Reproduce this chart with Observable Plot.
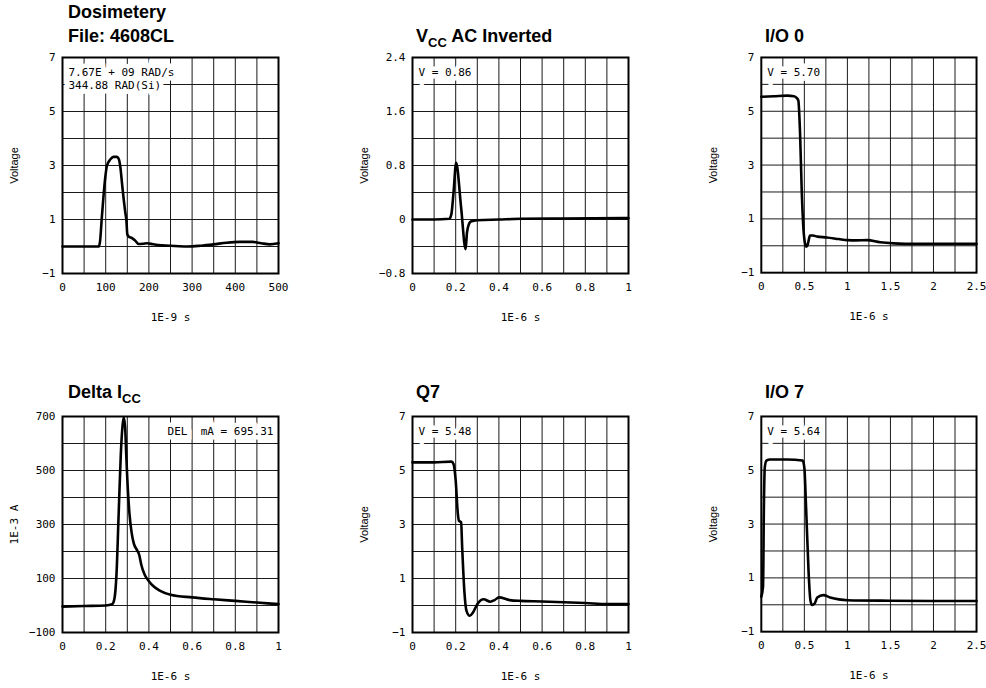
<!DOCTYPE html>
<html><head><meta charset="utf-8">
<script src="https://cdn.jsdelivr.net/npm/d3@7"></script>
<script src="https://cdn.jsdelivr.net/npm/@observablehq/plot@0.6"></script>
<style>
body{margin:0;background:#fff;}
#root{position:relative;width:986px;height:688px;overflow:hidden;background:#fff;}
.panel{position:absolute;}
.title{position:absolute;font-family:"Liberation Sans",Arial,Helvetica,sans-serif;font-weight:bold;font-size:18px;line-height:24px;color:#000;white-space:nowrap;}
.title .sub{font-size:13px;position:relative;top:5px;}
</style></head><body><div id="root"></div>
<script>
// ---------- Data ----------
// Panel 1: Dosimetery (time in 1E-9 s, Voltage)
const dosT = [0, 50, 84, 87, 91, 95, 99, 103, 111, 118, 126, 130, 134, 138, 142, 145, 148, 150, 153, 161, 169, 176, 186, 196, 210, 230, 260, 290, 320, 350, 380, 410, 440, 460, 480, 500];
const dosV = [0, 0, 0, 0.2, 1.07, 1.88, 2.56, 3.0, 3.23, 3.32, 3.32, 3.25, 2.93, 2.3, 1.7, 1.3, 0.95, 0.46, 0.37, 0.31, 0.21, 0.09, 0.1, 0.12, 0.08, 0.04, 0.02, 0.0, 0.03, 0.08, 0.14, 0.17, 0.17, 0.12, 0.08, 0.12];

// Panel 2: VCC AC Inverted (1E-6 s, Voltage)
const vccT = [0, 0.1, 0.17, 0.18, 0.19, 0.202, 0.225, 0.246, 0.252, 0.258, 0.27, 0.3, 0.4, 0.5, 0.7, 1.0];
const vccV = [0, 0, 0.01, 0.08, 0.4, 0.84, 0.18, -0.44, -0.2, -0.1, -0.03, -0.01, 0, 0.01, 0.015, 0.02];

// Panel 3: I/O 0 (1E-6 s, Voltage)
const io0T = [0, 0.15, 0.3, 0.38, 0.41, 0.43, 0.45, 0.47, 0.49, 0.51, 0.52, 0.535, 0.55, 0.565, 0.6, 0.65, 0.76, 0.9, 1.0, 1.1, 1.23, 1.38, 1.54, 1.8, 2.1, 2.5];
const io0V = [5.54, 5.56, 5.58, 5.56, 5.5, 5.4, 4.2, 2.0, 0.6, 0.05, -0.03, 0.0, 0.2, 0.38, 0.38, 0.34, 0.31, 0.25, 0.21, 0.2, 0.21, 0.13, 0.09, 0.07, 0.07, 0.07];

// Panel 4: Delta ICC (1E-6 s, 1E-3 A)
const iccT = [0, 0.1, 0.2, 0.23, 0.24, 0.25, 0.26, 0.27, 0.28, 0.284, 0.29, 0.295, 0.3, 0.31, 0.32, 0.33, 0.345, 0.355, 0.365, 0.38, 0.4, 0.42, 0.45, 0.5, 0.6, 0.7, 0.8, 0.9, 1.0];
const iccA = [-4, -2, 0, 5, 23, 116, 339, 561, 680, 695, 660, 560, 470, 340, 270, 230, 205, 188, 150, 115, 90, 72, 55, 40, 30, 23, 17, 11, 5];

// Panel 5: Q7 (1E-6 s, Voltage)
const q7T = [0, 0.1, 0.18, 0.19, 0.2, 0.21, 0.215, 0.225, 0.23, 0.24, 0.25, 0.265, 0.28, 0.3, 0.33, 0.36, 0.38, 0.4, 0.45, 0.5, 0.6, 0.7, 0.8, 0.9, 1.0];
const q7V = [5.3, 5.3, 5.33, 5.24, 4.62, 3.39, 3.14, 3.08, 2.15, 0.54, -0.2, -0.38, -0.26, 0.05, 0.23, 0.14, 0.2, 0.3, 0.2, 0.17, 0.15, 0.12, 0.09, 0.05, 0.05];

// Panel 6: I/O 7 (1E-6 s, Voltage)
const io7T = [0, 0.02, 0.03, 0.04, 0.06, 0.1, 0.3, 0.48, 0.5, 0.52, 0.55, 0.57, 0.59, 0.62, 0.65, 0.72, 0.8, 0.9, 1.0, 1.5, 2.0, 2.5];
const io7V = [0.3, 0.67, 3.6, 5.1, 5.36, 5.4, 5.4, 5.36, 5.1, 3.63, 1.16, 0.17, -0.01, 0.05, 0.27, 0.36, 0.27, 0.2, 0.17, 0.15, 0.14, 0.14];

// Tick labels and grid lines
const ticksNs = [0, 100, 200, 300, 400, 500];
const gridNs = [50, 100, 150, 200, 250, 300, 350, 400, 450];
const ticksUs1 = [0, 0.2, 0.4, 0.6, 0.8, 1];
const gridUs1 = [0.1, 0.2, 0.3, 0.4, 0.5, 0.6, 0.7, 0.8, 0.9];
const ticksUs25 = [0, 0.5, 1, 1.5, 2, 2.5];
const gridUs25 = [0.25, 0.5, 0.75, 1, 1.25, 1.5, 1.75, 2, 2.25];
const ticksVolt = [-1, 1, 3, 5, 7];
const gridVolt = [0, 1, 2, 3, 4, 5, 6];
const ticksVcc = [-0.8, 0, 0.8, 1.6, 2.4];
const gridVcc = [-0.4, 0, 0.4, 0.8, 1.2, 1.6, 2.0];
const ticksmA = [-100, 100, 300, 500, 700];
const gridmA = [0, 100, 200, 300, 400, 500, 600];

const titles = ["Dosimetery<br>File: 4608CL", "V<span class=\"sub\">CC</span> AC Inverted", "I/O 0",
                "Delta I<span class=\"sub\">CC</span>", "Q7", "I/O 7"];
const notes = ["7.67E + 09 RAD/s\n344.88 RAD(Si)", "V = 0.86", "V = 5.70",
               "DEL\u00a0\u00a0mA = 695.31", "V = 5.48", "V = 5.64"];
const xLabels = ["1E-9 s", "1E-6 s", "1E-6 s", "1E-6 s", "1E-6 s", "1E-6 s"];
const yLabels = ["Voltage", "Voltage", "Voltage", "1E-3 A", "Voltage", "Voltage"];

// ---------- Layout ----------
const FRAME = 216, ML = 55, MR = 10, MT = 10, MB = 56;
const frameLefts = [62, 412, 761];
const frameTops = [57, 416];

const panels = [
  {t: dosT, v: dosV, xd: [0, 500], yd: [-1, 7], xt: ticksNs, xg: gridNs, yt: ticksVolt, yg: gridVolt},
  {t: vccT, v: vccV, xd: [0, 1], yd: [-0.8, 2.4], xt: ticksUs1, xg: gridUs1, yt: ticksVcc, yg: gridVcc},
  {t: io0T, v: io0V, xd: [0, 2.5], yd: [-1, 7], xt: ticksUs25, xg: gridUs25, yt: ticksVolt, yg: gridVolt},
  {t: iccT, v: iccA, xd: [0, 1], yd: [-100, 700], xt: ticksUs1, xg: gridUs1, yt: ticksmA, yg: gridmA},
  {t: q7T, v: q7V, xd: [0, 1], yd: [-1, 7], xt: ticksUs1, xg: gridUs1, yt: ticksVolt, yg: gridVolt},
  {t: io7T, v: io7V, xd: [0, 2.5], yd: [-1, 7], xt: ticksUs25, xg: gridUs25, yt: ticksVolt, yg: gridVolt}
];

const root = document.getElementById("root");
const MONO = "'DejaVu Sans Mono', monospace";
const SANS = "'Liberation Sans', Arial, Helvetica, sans-serif";
const fmt = d => (d < 0 ? "\u2212" + String(-d) : String(d));

panels.forEach((p, i) => {
  const col = i % 3, row = Math.floor(i / 3);
  const fl = frameLefts[col], ft = frameTops[row];
  const data = p.t.map((t, k) => ({t, v: p.v[k]}));
  const right = i === 3;
  const noteOpts = {
    frameAnchor: right ? "top-right" : "top-left",
    textAnchor: right ? "end" : "start",
    dx: right ? -5 : 6, dy: 9, lineAnchor: "top", lineHeight: 1.18,
    text: d => d, fontFamily: MONO, fontSize: 11
  };
  const chart = Plot.plot({
    width: FRAME + ML + MR, height: FRAME + MT + MB,
    marginLeft: ML, marginRight: MR, marginTop: MT, marginBottom: MB,
    style: {fontFamily: MONO, fontSize: "11px", background: "white", color: "black", overflow: "visible"},
    x: {domain: p.xd, ticks: p.xt, tickFormat: fmt, tickSize: 0, tickPadding: 10, label: null},
    y: {domain: p.yd, ticks: p.yt, tickFormat: fmt, tickSize: 0, tickPadding: 7, label: null},
    marks: [
      Plot.ruleX(p.xg, {stroke: "#1a1a1a", strokeWidth: 1}),
      Plot.ruleY(p.yg, {stroke: "#1a1a1a", strokeWidth: 1}),
      Plot.text([notes[i]], {...noteOpts, fill: "white", stroke: "white", strokeWidth: 9, strokeLinejoin: "miter"}),
      Plot.text([notes[i]], {...noteOpts, fill: "black"}),
      Plot.line(data, {x: "t", y: "v", stroke: "black", strokeWidth: 2.6, curve: "monotone-x", strokeLinejoin: "round"}),
      Plot.frame({stroke: "black", strokeWidth: 2}),
      Plot.text([xLabels[i]], {frameAnchor: "bottom", dy: 44, lineAnchor: "middle", text: d => d, fontFamily: MONO, fontSize: 11}),
      Plot.text([yLabels[i]], {frameAnchor: "left", dx: -48, rotate: -90, lineAnchor: "middle", textAnchor: "middle", text: d => d,
        fontFamily: yLabels[i] === "Voltage" ? SANS : MONO, fontSize: 11})
    ]
  });
  const div = document.createElement("div");
  div.className = "panel";
  div.style.left = (fl - ML) + "px";
  div.style.top = (ft - MT) + "px";
  div.appendChild(chart);
  root.appendChild(div);

  const tdiv = document.createElement("div");
  tdiv.className = "title";
  tdiv.innerHTML = titles[i];
  tdiv.style.left = (fl + (col === 0 ? 7 : 5) - 1) + "px";
  tdiv.style.top = (i === 0 ? 0 : (row === 0 ? 24 : 380)) + "px";
  root.appendChild(tdiv);
});
</script></body></html>
